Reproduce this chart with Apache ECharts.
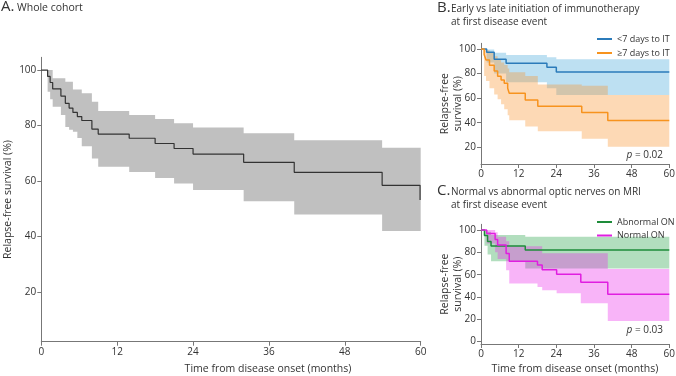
<!DOCTYPE html>
<html>
<head>
<meta charset="utf-8">
<script src="https://cdn.jsdelivr.net/npm/echarts@6/dist/echarts.min.js"></script>
<style>
  html, body { margin: 0; padding: 0; background: #fff; }
  #chart { width: 676px; height: 376px; }
</style>
</head>
<body>
<div id="chart"></div>
<script>
  // ticks
  var monthTicks = [0, 12, 24, 36, 48, 60];
  var survTicks = [20, 40, 60, 80, 100];
  var survTicksC = [0, 20, 40, 60, 80, 100];

  // A. whole cohort (months, %)
  var cohortTime  = [0, 1.0, 1.4, 1.8, 3.1, 3.8, 4.4, 5.0, 5.7, 6.4, 8.0, 9.0, 13.9, 18.0, 21.0, 24.0, 32.0, 40.0, 53.9, 59.9, 60];
  var cohortSurv  = [100, 97.7, 95.5, 93.2, 90.6, 88.0, 86.3, 84.7, 83.2, 81.8, 78.7, 76.9, 75.4, 73.5, 71.7, 69.7, 66.7, 63.1, 58.4, 53.1, 53.1];
  var cohortUpper = [100, 100, 100, 97.0, 97.0, 95.8, 95.8, 93.0, 93.0, 91.6, 88.6, 85.2, 83.8, 82.3, 80.8, 79.3, 77.2, 74.7, 72.0, 72.0, 72.0];
  var cohortLower = [100, 92.2, 89.5, 86.8, 83.8, 79.5, 78.5, 77.7, 75.5, 72.5, 68.1, 65.1, 63.2, 61.1, 59.1, 56.7, 52.7, 47.9, 41.9, 41.9, 41.9];

  // B. early vs late immunotherapy
  var earlyTime  = [0, 1.8, 4.2, 8.0, 21.0, 24.0, 60];
  var earlySurv  = [100, 97.3, 91.6, 88.4, 85.1, 81.2, 81.2];
  var earlyUpper = [100, 99.5, 97.0, 95.1, 93.2, 91.6, 91.6];
  var earlyLower = [100, 89, 80, 73, 68, 62.5, 62.5];

  var lateTime  = [0, 1.0, 1.6, 2.7, 4.2, 5.3, 6.4, 7.4, 8.5, 9.0, 14.1, 18.1, 32.1, 40.4, 60];
  var lateSurv  = [100, 95.5, 91.0, 86.8, 82.0, 77.7, 74.8, 72.0, 68.0, 64.0, 58.5, 53.4, 48.2, 41.7, 41.7];
  var lateUpper = [100, 100, 99, 97, 94, 91, 89, 87, 84, 81, 78, 71, 70, 62.6, 62.6];
  var lateLower = [100, 78, 74, 68, 63, 59, 55, 51, 46, 42, 37, 33, 27, 20.5, 20.5];

  // C. optic nerves on MRI
  var abnTime  = [0, 1.1, 2.1, 3.2, 14.1, 60];
  var abnSurv  = [100, 95.0, 89.7, 85.7, 82.1, 82.1];
  var abnUpper = [100, 100, 98.5, 95.5, 94.0, 94.0];
  var abnLower = [100, 86, 78, 72, 65.5, 65.5];

  var normTime  = [0, 1.8, 4.5, 5.3, 8.0, 9.0, 18.0, 19.5, 24.1, 31.8, 40.4, 60];
  var normSurv  = [100, 96.8, 91.5, 86.5, 79.0, 72.0, 68.6, 64.5, 60.3, 53.2, 42.4, 42.4];
  var normUpper = [100, 100, 98, 94, 90, 85.5, 85.5, 79.1, 79.1, 79.1, 65.1, 65.1];
  var normLower = [100, 88, 80, 74, 64, 52, 49, 46, 43.3, 34.4, 18.5, 18.5];

  var FONT = 'Open Sans';
  var TXT = '#333';
  var AX = '#777';
  var FS = 10;

  function pairs(t, v) {
    return t.map(function (x, i) { return [x, v[i]]; });
  }
  // confidence band as one stepped polygon, placed with the axis scales
  function band(idx, t, up, lo, color) {
    return {
      type: 'custom', xAxisIndex: idx, yAxisIndex: idx, silent: true, z: 1,
      data: t.map(function (x, i) { return [x, up[i], lo[i]]; }),
      encode: {x: 0, y: [1, 2]},
      renderItem: function (params, api) {
        if (params.dataIndex !== 0) return;
        var top = [], bottom = [];
        for (var i = 0; i < t.length; i++) {
          if (i > 0) {
            top.push(api.coord([t[i], up[i - 1]]));
            bottom.push(api.coord([t[i], lo[i - 1]]));
          }
          top.push(api.coord([t[i], up[i]]));
          bottom.push(api.coord([t[i], lo[i]]));
        }
        return {
          type: 'polygon',
          shape: {points: top.concat(bottom.reverse())},
          style: {fill: color}
        };
      }
    };
  }
  function curve(idx, name, t, v, color, width) {
    return {
      name: name, type: 'line', xAxisIndex: idx, yAxisIndex: idx, step: 'end',
      symbol: 'none', color: color, lineStyle: {color: color, width: width},
      data: pairs(t, v), z: 3
    };
  }
  function xAx(idx) {
    return {
      gridIndex: idx, type: 'value', min: 0, max: 60, interval: 12,
      axisLine: {show: true, onZero: false, lineStyle: {color: AX, width: 1}},
      axisTick: {show: true, length: 4, lineStyle: {color: AX}},
      splitLine: {show: false},
      axisLabel: {color: TXT, fontSize: FS, fontFamily: FONT, margin: 5, showMinLabel: true, showMaxLabel: true}
    };
  }
  function yAx(idx, min, max, ticks, name, gap) {
    return {
      gridIndex: idx, type: 'value', min: min, max: max,
      name: name, nameLocation: 'middle', nameGap: gap, nameRotate: 90, nameMoveOverlap: false,
      nameTextStyle: {color: TXT, fontSize: 10.5, fontFamily: FONT, lineHeight: 13},
      axisLine: {show: true, onZero: false, lineStyle: {color: AX, width: 1}},
      axisTick: {show: true, length: 4, lineStyle: {color: AX}, customValues: ticks},
      splitLine: {show: false},
      axisLabel: {color: TXT, fontSize: FS, fontFamily: FONT, margin: 5, customValues: ticks, showMinLabel: true, hideOverlap: false}
    };
  }
  function label(x, y, text, size, align) {
    return {
      type: 'text', x: x, y: y, silent: true,
      style: {text: text, fill: TXT, font: size + 'px "' + FONT + '"', align: align || 'left', verticalAlign: 'middle'}
    };
  }
  function pval(x, y, text) {
    return {
      type: 'text', x: x, y: y, silent: true,
      style: {
        text: '{i|p} = ' + text, align: 'right', verticalAlign: 'middle', fill: TXT,
        font: FS + 'px "' + FONT + '"',
        rich: {i: {fontStyle: 'italic', fontSize: FS, fontFamily: FONT, fill: TXT}}
      }
    };
  }

  var chart = echarts.init(document.getElementById('chart'));

  var series = [
    band(0, cohortTime, cohortUpper, cohortLower, '#c0c0c0'),
    band(1, earlyTime, earlyUpper, earlyLower, 'rgba(67,166,218,0.35)'),
    band(1, lateTime, lateUpper, lateLower, 'rgba(249,146,44,0.35)'),
    band(2, abnTime, abnUpper, abnLower, 'rgba(35,161,69,0.35)'),
    band(2, normTime, normUpper, normLower, 'rgba(235,41,235,0.35)'),
    curve(0, 'Whole cohort', cohortTime, cohortSurv, '#333333', 1.2),
    curve(1, '<7 days to IT', earlyTime, earlySurv, '#2b7bba', 1.5),
    curve(1, '≥7 days to IT', lateTime, lateSurv, '#f7931e', 1.5),
    curve(2, 'Abnormal ON', abnTime, abnSurv, '#1e8c3a', 1.5),
    curve(2, 'Normal ON', normTime, normSurv, '#e01ee0', 1.5)
  ];

  chart.setOption({
    animation: false,
    backgroundColor: '#fff',
    textStyle: {fontFamily: FONT},
    grid: [
      {left: 41.3, top: 57.3, width: 379.4, height: 284.4, outerBoundsMode: 'none'},
      {left: 481, top: 43.3, width: 188.3, height: 120.7, outerBoundsMode: 'none'},
      {left: 481, top: 224.3, width: 188.3, height: 119.7, outerBoundsMode: 'none'}
    ],
    xAxis: [xAx(0), xAx(1), xAx(2)],
    yAxis: [
      yAx(0, 2, 104.6, survTicks, 'Relapse-free survival (%)', 27),
      yAx(1, 6.4, 104.6, survTicks, 'Relapse-free\nsurvival (%)', 16),
      yAx(2, -2.1, 105.1, survTicksC, 'Relapse-free\nsurvival (%)', 16)
    ],
    legend: [
      {
        orient: 'vertical', left: 592, top: 28, icon: 'rect', itemWidth: 15, itemHeight: 2, itemGap: 2,
        textStyle: {color: TXT, fontSize: 9, fontFamily: FONT, lineHeight: 12},
        data: ['<7 days to IT', '≥7 days to IT']
      },
      {
        orient: 'vertical', left: 592, top: 211, icon: 'rect', itemWidth: 15, itemHeight: 2, itemGap: 1.5,
        textStyle: {color: TXT, fontSize: 9, fontFamily: FONT, lineHeight: 12},
        data: ['Abnormal ON', 'Normal ON']
      }
    ],
    graphic: [
      label(1, 7, 'A.', 15),
      label(17, 8, 'Whole cohort', 10.5),
      label(268, 369, 'Time from disease onset (months)', 10.5, 'center'),
      label(437, 8, 'B.', 15),
      label(451, 9, 'Early vs late initiation of immunotherapy', FS),
      label(451, 22, 'at first disease event', FS),
      label(437, 191, 'C.', 15),
      label(451, 192, 'Normal vs abnormal optic nerves on MRI', FS),
      label(451, 205, 'at first disease event', FS),
      label(575, 369, 'Time from disease onset (months)', 10.5, 'center'),
      pval(663, 155, '0.02'),
      pval(663, 330, '0.03')
    ],
    series: series
  });
</script>
</body>
</html>
